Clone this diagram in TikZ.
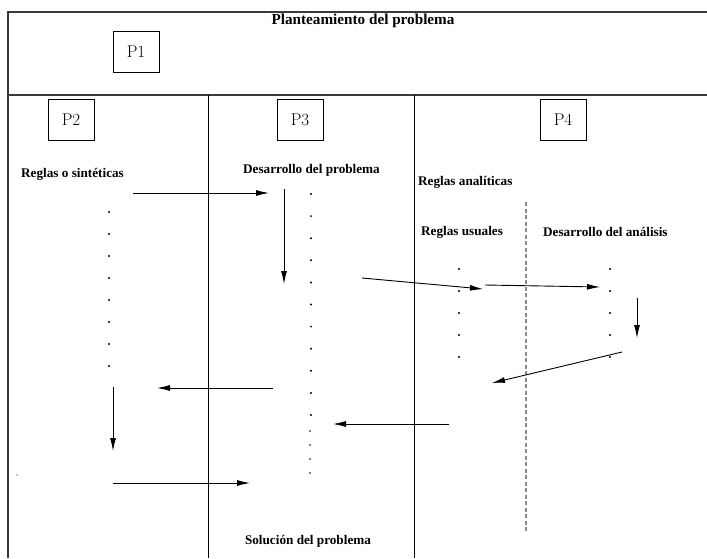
\documentclass[tikz,border=0pt]{standalone}
\usepackage{fontspec}
\newfontfamily\lblfont{Liberation Serif}
\usepackage{xcolor}
\usepackage{tikz}
\usetikzlibrary{arrows.meta, positioning}
\definecolor{frame}{HTML}{3A3A3A}
\definecolor{guide}{HTML}{8A8A8A}
\tikzset{
    frameline/.style={draw=frame, line width=1.6pt},
    divline/.style={draw=black, line width=1pt},
    pbox/.style={rectangle, draw=black, line width=0.8pt, minimum width=46pt,
                 minimum height=41pt, inner sep=0pt, font=\fontsize{17}{19}\selectfont},
    title/.style={font=\lblfont\bfseries\fontsize{15.2}{17}\selectfont, inner sep=0pt},
    lbl/.style={font=\lblfont\bfseries\fontsize{13.2}{15}\selectfont, inner sep=0pt},
    arr/.style={-{Latex[length=13pt,width=6pt]}, line width=0.9pt},
    guideline/.style={draw=guide, line width=1.2pt, dash pattern=on 4pt off 2.5pt},
}

\begin{document}
\begin{tikzpicture}[x=1pt, y=-1pt]
  \useasboundingbox (0,0) rectangle (707,558);

  % Frame and columns
  \draw[frameline] (8,558) -- (8,12) -- (707,12);
  \draw[frameline] (8,95) -- (707,95);
  \draw[divline] (208,95) -- (208,558);
  \draw[divline] (414,95) -- (414,558);
  \draw[guideline] (526,202) -- (526,532);

  % Headings
  \node[title] (plan) at (363,21) {Planteamiento del problema};
  \node[pbox] (p1) at (136,51.5) {P1};
  \node[pbox] (p2) at (71,120) {P2};
  \node[pbox] (p3) at (300,120) {P3};
  \node[pbox] (p4) at (563,120) {P4};

  \node[lbl, anchor=west] (sint) at (21,174) {Reglas o sintéticas};
  \node[lbl] (desp) at (311.5,170) {Desarrollo del problema};
  \node[lbl, anchor=west] (anal) at (418,182) {Reglas analíticas};
  \node[lbl, anchor=west] (usu) at (421,232) {Reglas usuales};
  \node[lbl, anchor=west] (desa) at (543,232) {Desarrollo del análisis};
  \node[lbl] (sol) at (308,541) {Solución del problema};

  % Dotted columns
  \foreach \k in {0,...,7}
    \fill (109,212+22*\k) circle (1.1pt);
  \foreach \k in {0,...,10}
    \fill (311,194+22.1*\k) circle (1.1pt);
  \foreach \y in {431,445,459,473}
    \fill (310,\y) circle (0.9pt);
  \foreach \y in {269,291,313,335,357} {
    \fill (459,\y) circle (1.1pt);
    \fill (610,\y) circle (1.1pt);
  }
  \fill (17,475) circle (0.7pt);

  % Arrow ends
  \coordinate (a1) at (133,193);  \coordinate (b1) at (269,193);
  \coordinate (a2) at (284,189);  \coordinate (b2) at (284,284);
  \coordinate (a3) at (362,278);  \coordinate (b3) at (483,289);
  \coordinate (a4) at (485,285);  \coordinate (b4) at (600,287);
  \coordinate (a5) at (637,298);  \coordinate (b5) at (637,338);
  \coordinate (a6) at (622,352);  \coordinate (b6) at (492,383);
  \coordinate (a7) at (273,388);  \coordinate (b7) at (157,388);
  \coordinate (a8) at (113,387);  \coordinate (b8) at (113,451);
  \coordinate (a9) at (449,424);  \coordinate (b9) at (333,424);
  \coordinate (a10) at (113,483); \coordinate (b10) at (250,483);

  \foreach \i in {1,...,10}
    \draw[arr] (a\i) -- (b\i);

\end{tikzpicture}
\end{document}
